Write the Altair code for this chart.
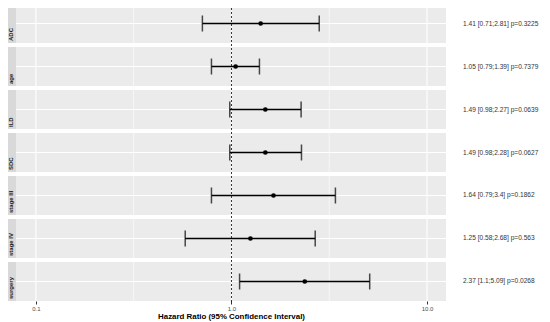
import altair as alt
import pandas as pd

variables = ["ADC", "age", "ILD", "SDC", "stage III", "stage IV", "surgery"]
hr = [1.41, 1.05, 1.49, 1.49, 1.64, 1.25, 2.37]
lower = [0.71, 0.79, 0.98, 0.98, 0.79, 0.58, 1.1]
upper = [2.81, 1.39, 2.27, 2.28, 3.4, 2.68, 5.09]
pvals = ["0.3225", "0.7379", "0.0639", "0.0627", "0.1862", "0.563", "0.0268"]
major_breaks = [0.1, 1.0, 10.0]
minor_breaks = [0.316, 3.16]

W, H = 430, 297

df = pd.DataFrame({
    "var": variables, "hr": hr, "lo": lower, "hi": upper,
    "label": [f"{h} [{l};{u}] p={p}" for h, l, u, p in zip(hr, lower, upper, pvals)],
})
grid_major = pd.DataFrame({"g": major_breaks})
grid_minor = pd.DataFrame({"g": minor_breaks})
ref = pd.DataFrame({"g": [1.0]})

xscale = alt.Scale(type="log", domain=[0.0791, 12.5], nice=False)
yscale = alt.Scale(domain=variables, paddingInner=0.093, paddingOuter=0)
Y = alt.Y("var:N", scale=yscale, axis=None)

base = alt.Chart(df)

panels = base.mark_rect(color="#EBEBEB").encode(x=alt.value(0), x2=alt.value(W), y=Y)
strips = base.mark_rect(color="#D9D9D9").encode(x=alt.value(-10), x2=alt.value(0), y=Y)
strip_text = base.mark_text(angle=270, fontSize=6, fontWeight="bold", color="#1A1A1A",
                            font="Liberation Sans", align="left", baseline="middle",
                            yOffset=17.5).encode(
    x=alt.value(-5), y=Y, text="var:N")
hgrid = base.mark_rule(color="white", strokeWidth=1).encode(x=alt.value(0), x2=alt.value(W), y=Y)
vmajor = alt.Chart(grid_major).mark_rule(color="white", strokeWidth=1.1).encode(
    x=alt.X("g:Q", scale=xscale), y=alt.value(0), y2=alt.value(H))
vminor = alt.Chart(grid_minor).mark_rule(color="white", strokeWidth=0.6).encode(
    x=alt.X("g:Q", scale=xscale), y=alt.value(0), y2=alt.value(H))
refline = alt.Chart(ref).mark_rule(color="black", strokeDash=[2, 2], strokeWidth=0.8).encode(
    x=alt.X("g:Q", scale=xscale), y=alt.value(0), y2=alt.value(H + 2))

bars = base.mark_rule(color="black", strokeWidth=1.5).encode(
    x=alt.X("lo:Q", scale=xscale,
            axis=alt.Axis(values=major_breaks, format=".1f", grid=False, domain=False,
                          labelFontSize=6, labelColor="#4D4D4D", tickColor="#333333",
                          tickSize=3, labelPadding=1, labelFont="Liberation Sans",
                          title="Hazard Ratio (95% Confidence Interval)", titleFontSize=7.9,
                          titleFontWeight="bold", titleColor="black", titlePadding=1,
                          titleFont="Liberation Sans")),
    x2="hi:Q", y=Y)
caps_lo = base.mark_tick(color="black", thickness=1.5, size=16, orient="vertical").encode(
    x=alt.X("lo:Q", scale=xscale), y=Y)
caps_hi = base.mark_tick(color="black", thickness=1.5, size=16, orient="vertical").encode(
    x=alt.X("hi:Q", scale=xscale), y=Y)
points = base.mark_circle(color="black", size=22, opacity=1).encode(
    x=alt.X("hr:Q", scale=xscale), y=Y)
labels = base.mark_text(align="left", fontSize=6.6, color="#333333", font="Liberation Sans").encode(
    x=alt.value(447), y=Y, text="label:N")

chart = alt.layer(
    panels, strips, strip_text, hgrid, vmajor, vminor, refline, bars, caps_lo, caps_hi, points, labels
).properties(
    width=W, height=H,
    autosize=alt.AutoSizeParams(type="none"),
    padding={"left": 8, "top": -4, "right": 96, "bottom": 21},
).configure_view(stroke=None)

chart.save("out.html", embed_options={"renderer": "svg", "actions": False})
